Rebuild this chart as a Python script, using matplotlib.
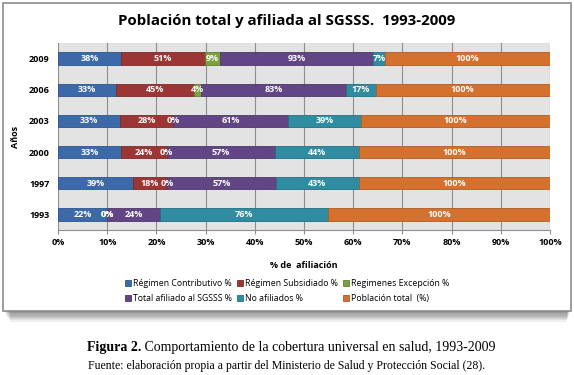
import matplotlib.pyplot as plt
from matplotlib.patches import Rectangle
import numpy as np

# chart data
years = ["1993", "1997", "2000", "2003", "2006", "2009"]
series_names = ["Régimen Contributivo %", "Régimen Subsidiado %", "Regimenes Excepción %",
                "Total afiliado al SGSSS %", "No afiliados %", "Población total  (%)"]
contributivo = [22, 39, 33, 33, 33, 38]
subsidiado = [0, 18, 24, 28, 45, 51]
excepcion = [0, 0, 0, 0, 4, 9]
total_afiliado = [24, 57, 57, 61, 83, 93]
no_afiliados = [76, 43, 44, 39, 17, 7]
poblacion_total = [100, 100, 100, 100, 100, 100]
x_ticks = [0, 10, 20, 30, 40, 50, 60, 70, 80, 90, 100]

colors = ["#3C69A7", "#9C3634", "#7BA23F", "#624584", "#2F8CA1", "#D4712F"]
edges = ["#2E558C", "#7E2A29", "#627F32", "#4E376A", "#256F80", "#B05C24"]

W, H = 574, 375
fig = plt.figure(figsize=(W / 100, H / 100), dpi=100)
plt.rcParams['font.family'] = ['Open Sans', 'DejaVu Sans']

# chart frame with soft shadow
for i in range(9):
    fig.patches.append(Rectangle(((4 + i * 0.8) / W, 1 - (312 + i * 1.2) / H), (566 - i * 1.2) / W, 300 / H,
                                 transform=fig.transFigure, facecolor="#000000", alpha=0.06,
                                 edgecolor="none", zorder=0))
fig.patches.append(Rectangle((3 / W, 1 - 311 / H), 568 / W, 308 / H, transform=fig.transFigure,
                             facecolor="white", edgecolor="#8C8C8C", linewidth=1.2, zorder=1))

ax = fig.add_axes([58 / W, 1 - 230 / H, 492 / W, 187 / H])
ax.set_zorder(2)
ax.set_facecolor("#E3E3E3")

data = np.array([contributivo, subsidiado, excepcion, total_afiliado, no_afiliados, poblacion_total], dtype=float)
totals = data.sum(axis=0)
shares = data / totals * 100
y = np.arange(len(years))
left = np.zeros(len(years))
handles = []
for k in range(len(series_names)):
    h = ax.barh(y, shares[k], left=left, height=0.4, color=colors[k], edgecolor=edges[k],
                linewidth=0.6, label=series_names[k], zorder=3)
    handles.append(h)
    for j in range(len(years)):
        ax.text(left[j] + shares[k][j] / 2, y[j], f"{int(data[k][j])}%", ha="center", va="center",
                color="white", fontsize=6.5, fontweight="bold", zorder=4)
    left = left + shares[k]

ax.set_xlim(0, 100)
ax.set_ylim(-0.5, len(years) - 0.5)
ax.set_xticks(x_ticks)
ax.set_xticklabels([f"{t}%" for t in x_ticks], fontsize=6.5, fontweight="bold")
ax.set_yticks(y)
ax.set_yticklabels(years, fontsize=6.5, fontweight="bold")
ax.grid(axis="x", color="#8E8E8E", linewidth=0.8, zorder=1)
ax.set_axisbelow(True)
for s in ax.spines.values():
    s.set_visible(False)
ax.spines["bottom"].set_visible(True)
ax.spines["bottom"].set_color("#8E8E8E")
ax.tick_params(axis="x", length=3, color="#8E8E8E", pad=3)
ax.tick_params(axis="y", length=0, pad=6)
ax.set_xlabel("% de  afiliación", fontsize=6.5, fontweight="bold", labelpad=10)
ax.set_ylabel("Años", fontsize=6.5, fontweight="bold", labelpad=6)

fig.text(287 / W, 1 - 21 / H, "Población total y afiliada al SGSSS.  1993-2009", ha="center", va="center",
         fontsize=10.8, fontweight="bold", zorder=3)

order = [0, 3, 1, 4, 2, 5]
leg = fig.legend([handles[i] for i in order], [series_names[i] for i in order], ncol=3,
                 loc="center", bbox_to_anchor=(287 / W, 1 - 291 / H), frameon=False, fontsize=6.3,
                 handlelength=0.7, handleheight=0.7, handletextpad=0.3, columnspacing=0.5,
                 labelspacing=0.6, borderaxespad=0)
leg.set_zorder(3)

# caption below the chart: bold "Figura 2." followed by regular text, centred as one line
cap_y = 1 - 347 / H
t1 = fig.text(0, cap_y, "Figura 2.", ha="left", va="center", fontsize=10,
              family="Liberation Serif", fontweight="bold")
t2 = fig.text(0, cap_y, " Comportamiento de la cobertura universal en salud, 1993-2009",
              ha="left", va="center", fontsize=10, family="Liberation Serif")
fig.canvas.draw()
renderer = fig.canvas.get_renderer()
w1 = t1.get_window_extent(renderer).width
w2 = t2.get_window_extent(renderer).width
x_start = 291 - (w1 + w2) / 2
t1.set_x(x_start / W)
t2.set_x((x_start + w1) / W)
fig.text(287 / W, 1 - 366 / H, "Fuente: elaboración propia a partir del Ministerio de Salud y Protección Social (28).",
         ha="center", va="center", fontsize=8.5, family="Liberation Serif")

fig.savefig("out.png", dpi=100)
